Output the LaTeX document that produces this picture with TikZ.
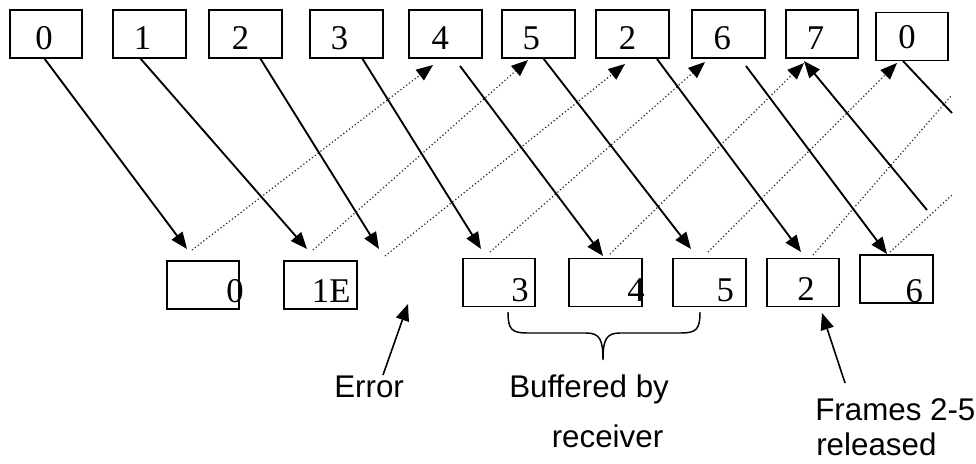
\documentclass[tikz,border=0pt]{standalone}
\usepackage{fontspec}
\setmainfont{Liberation Serif}
\newfontfamily\labfont{Liberation Sans}
\usetikzlibrary{arrows.meta}
\newcommand\bt[2]{\makebox[54.4pt][l]{\hspace*{#1}#2}}
\begin{document}
\begin{tikzpicture}[x=0.75pt,y=-0.75pt,
  fbox/.style={draw, line width=1.3pt, inner sep=0pt, minimum width=54.4pt,
    minimum height=36pt, font=\fontsize{26}{26}\selectfont},
  topd/.style={text depth=6.75pt, text height=29.25pt},
  send/.style={line width=1.4pt, -{Triangle[length=12.5pt,width=10pt]}},
  plain/.style={line width=1.4pt},
  ack/.style={line width=0.9pt, black!85, dash pattern=on 0.9pt off 1.8pt,
    -{Triangle[length=12.5pt,width=10pt,color=black]}},
  ackplain/.style={line width=0.9pt, black!85, dash pattern=on 0.9pt off 1.8pt},
  note/.style={line width=1.2pt, -{Triangle[length=12.5pt,width=10pt]}},
  lab/.style={anchor=base west, inner sep=0pt, font=\labfont\fontsize{23.5}{23.5}\selectfont},
  brace/.style={line width=1.1pt}
]
\useasboundingbox (0,0) rectangle (976,464);

% sender frames
\node[fbox,topd] (T0)  at (46,34)    {\bt{19.2pt}{0}};
\node[fbox,topd] (T1)  at (149.5,34) {\bt{15.5pt}{1}};
\node[fbox,topd] (T2)  at (245.5,34) {\bt{17pt}{2}};
\node[fbox,topd] (T3)  at (346.5,34) {\bt{15.4pt}{3}};
\node[fbox,topd] (T4)  at (445.5,34) {\bt{16.8pt}{4}};
\node[fbox,topd] (T5)  at (538.5,34) {\bt{15.2pt}{5}};
\node[fbox,topd] (T2b) at (632.5,34) {\bt{17pt}{2}};
\node[fbox,topd] (T6)  at (728.5,34) {\bt{16.1pt}{6}};
\node[fbox,topd] (T7)  at (822,34)   {\bt{15.8pt}{7}};
\node[fbox,text depth=9pt,text height=27pt] (T0b) at (912,36.5) {\bt{17pt}{0}};

% receiver frames
\node[fbox,text depth=5.25pt,text height=30.75pt] (B0) at (203,285)   {\bt{44.8pt}{0}};
\node[fbox,text depth=5.25pt,text height=30.75pt] (B1) at (320.5,285) {\bt{20.8pt}{1E}};
\node[fbox,text depth=3.75pt,text height=32.25pt] (B3) at (499,282.5)   {\bt{36.4pt}{3}};
\node[fbox,text depth=3.75pt,text height=32.25pt] (B4) at (605.5,282.5) {\bt{43.6pt}{4}};
\node[fbox,text depth=3.75pt,text height=32.25pt] (B5) at (709.5,282.5) {\bt{32.5pt}{5}};
\node[fbox,text depth=4.5pt,text height=31.5pt]   (B2) at (803,282.5)   {\bt{23pt}{2}};
\node[fbox,text depth=0.75pt,text height=35.25pt] (B6) at (896.5,279)   {\bt{34pt}{6}};

% connector end points
\coordinate (s1) at (44,58);   \coordinate (e1) at (187,249);
\coordinate (s2) at (140,58);  \coordinate (e2) at (307,249);
\coordinate (s3) at (260,58);  \coordinate (e3) at (379,249);
\coordinate (s4) at (362,58);  \coordinate (e4) at (481,249);
\coordinate (s5) at (460,66);  \coordinate (e5) at (603,256);
\coordinate (s6) at (543,58);  \coordinate (e6) at (691,249);
\coordinate (s7) at (657,59);  \coordinate (e7) at (801,252);
\coordinate (s8) at (746,66);  \coordinate (e8) at (887,254);
\coordinate (s9) at (903,61);  \coordinate (e9) at (952,113);
\coordinate (s10) at (927,210); \coordinate (e10) at (804,61);

\coordinate (k1) at (192,250); \coordinate (m1) at (433,65);
\coordinate (k2) at (313,250); \coordinate (m2) at (528,60);
\coordinate (k3) at (385,256); \coordinate (m3) at (625,64);
\coordinate (k4) at (490,252); \coordinate (m4) at (705,62);
\coordinate (k5) at (610,254); \coordinate (m5) at (804,63);
\coordinate (k6) at (708,252); \coordinate (m6) at (897,63);
\coordinate (k7) at (813,255); \coordinate (m7) at (952,95);
\coordinate (k8) at (890,252); \coordinate (m8) at (952,195);

% acknowledgements (dotted)
\draw[ack] (k1) -- (m1);
\draw[ack] (k2) -- (m2);
\draw[ack] (k3) -- (m3);
\draw[ack] (k4) -- (m4);
\draw[ack] (k5) -- (m5);
\draw[ack] (k6) -- (m6);
\draw[ackplain] (k7) -- (m7);
\draw[ackplain] (k8) -- (m8);

% frames sent (solid)
\draw[send] (s1) -- (e1);
\draw[send] (s2) -- (e2);
\draw[send] (s3) -- (e3);
\draw[send] (s4) -- (e4);
\draw[send] (s5) -- (e5);
\draw[send] (s6) -- (e6);
\draw[send] (s7) -- (e7);
\draw[send] (s8) -- (e8);
\draw[plain] (s9) -- (e9);
\draw[send] (s10) -- (e10);

% brace
\draw[brace] (508,312) .. controls (508,330) and (512,333) .. (528,333)
  -- (586,333) .. controls (600,333) and (603,340) .. (603,360)
  .. controls (603,340) and (606,333) .. (620,333)
  -- (680,333) .. controls (696,333) and (700,330) .. (700,312);

% labels
\node[lab] (lerr) at (334,397) {Error};
\coordinate (errtail) at (383,375); \coordinate (errtip) at (408,304);
\draw[note] (errtail) -- (errtip);

\node[lab] (lbuf) at (509,397) {Buffered by};
\node[lab] (lrec) at (551.5,447) {receiver};

\node[lab] (lfr) at (815,420) {Frames 2-5};
\node[lab] (lrel) at (816,455) {released};
\coordinate (frtail) at (845,383); \coordinate (frtip) at (822,313);
\draw[note] (frtail) -- (frtip);
\end{tikzpicture}
\end{document}
